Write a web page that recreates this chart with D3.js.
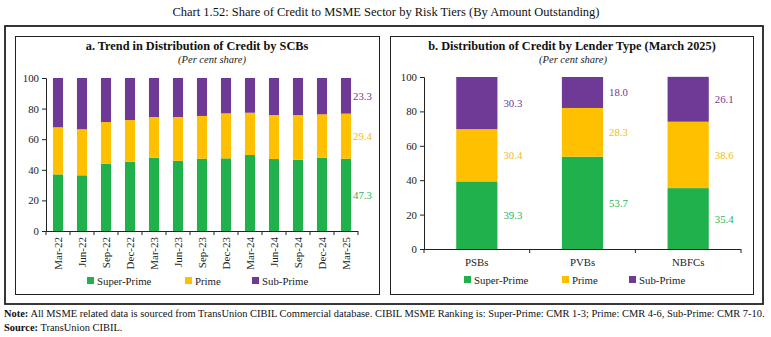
<!DOCTYPE html>
<html>
<head>
<meta charset="utf-8">
<script src="https://cdn.jsdelivr.net/npm/d3@7"></script>
<style>
  body { margin: 0; background: #fff; }
  svg { display: block; font-family: "Liberation Serif", "DejaVu Serif", serif; }
</style>
</head>
<body>
<svg id="chart" width="771" height="337"></svg>
<script>
// quarterly share of SCB credit by risk tier
var quarters = ["Mar-22", "Jun-22", "Sep-22", "Dec-22", "Mar-23", "Jun-23", "Sep-23",
  "Dec-23", "Mar-24", "Jun-24", "Sep-24", "Dec-24", "Mar-25"];
var superPrimeA = [37.0, 36.4, 44.0, 45.3, 47.9, 45.9, 47.3, 47.5, 49.7, 47.1, 46.6, 47.9, 47.3];
var primeA = [30.8, 30.1, 27.2, 27.2, 26.6, 28.6, 27.9, 29.4, 27.6, 28.7, 29.2, 28.4, 29.4];
var subPrimeA = [32.2, 33.5, 28.8, 27.5, 25.5, 25.5, 24.8, 23.1, 22.7, 24.2, 24.2, 23.7, 23.3];

// March 2025 share by lender type
var lenders = ["PSBs", "PVBs", "NBFCs"];
var superPrimeB = [39.3, 53.7, 35.4];
var primeB = [30.4, 28.3, 38.6];
var subPrimeB = [30.3, 18.0, 26.1];

var tiers = ["Super-Prime", "Prime", "Sub-Prime"];
var yTicks = [0, 20, 40, 60, 80, 100];

var colors = { "Super-Prime": "#21b14c", "Prime": "#ffc000", "Sub-Prime": "#6f3996" };
var labelColors = { "Super-Prime": "#2bb35a", "Prime": "#f7b81c", "Sub-Prime": "#6f3996" };

var svg = d3.select("#chart");

svg.append("text")
  .attr("x", 386).attr("y", 16)
  .attr("text-anchor", "middle")
  .attr("font-size", 12.5)
  .attr("fill", "#111")
  .text("Chart 1.52: Share of Credit to MSME Sector by Risk Tiers (By Amount Outstanding)");

// outer frame and the two panel boxes
svg.append("rect").attr("x", 5).attr("y", 26).attr("width", 758).attr("height", 278)
  .attr("fill", "none").attr("stroke", "#222").attr("stroke-width", 1.8);
svg.append("rect").attr("x", 15.5).attr("y", 36.5).attr("width", 364).attr("height", 258)
  .attr("fill", "none").attr("stroke", "#222").attr("stroke-width", 1);
svg.append("rect").attr("x", 390.5).attr("y", 36.5).attr("width", 363).attr("height", 258)
  .attr("fill", "none").attr("stroke", "#222").attr("stroke-width", 1);

function rows(cats, sp, p, s) {
  return cats.map(function(c, i) {
    return { cat: c, "Super-Prime": sp[i], "Prime": p[i], "Sub-Prime": s[i] };
  });
}

function panel(opt) {
  var g = svg.append("g");
  var data = rows(opt.cats, opt.sp, opt.p, opt.s);
  var series = d3.stack().keys(tiers)(data);

  var x = d3.scaleBand().domain(opt.cats).range([opt.x0, opt.x1]).paddingInner(opt.pad).paddingOuter(opt.pad / 2);
  var y = d3.scaleLinear().domain([0, 100]).range([opt.y0, opt.y1]);

  g.append("text")
    .attr("x", opt.cx).attr("y", 50)
    .attr("text-anchor", "middle")
    .attr("font-weight", "bold")
    .attr("font-size", 12.3)
    .attr("fill", "#111")
    .text(opt.title);
  g.append("text")
    .attr("x", opt.subx).attr("y", 63)
    .attr("text-anchor", "middle")
    .attr("font-style", "italic")
    .attr("font-size", 10.5)
    .attr("fill", "#222")
    .text("(Per cent share)");

  g.selectAll("g.series")
    .data(series)
    .join("g")
    .attr("fill", function(d) { return colors[d.key]; })
    .selectAll("rect")
    .data(function(d) { return d; })
    .join("rect")
    .attr("x", function(d) { return x(d.data.cat); })
    .attr("y", function(d) { return y(d[1]); })
    .attr("width", x.bandwidth())
    .attr("height", function(d) { return y(d[0]) - y(d[1]); });

  // y axis
  var yAxis = d3.axisLeft(y).tickValues(yTicks).tickSize(4).tickPadding(3);
  var ya = g.append("g").attr("transform", "translate(" + opt.x0 + ",0)").call(yAxis);
  ya.select(".domain").attr("stroke", "#222");
  ya.selectAll(".tick line").attr("stroke", "#222");
  ya.selectAll(".tick text").attr("font-size", 10.8).attr("fill", "#222")
    .attr("font-family", "Liberation Serif, serif");

  // x axis with tick marks between the bands
  g.append("line").attr("x1", opt.x0).attr("x2", opt.x1)
    .attr("y1", opt.y0 + 0.5).attr("y2", opt.y0 + 0.5).attr("stroke", "#222");
  var step = x.step();
  g.selectAll("line.xt")
    .data(d3.range(opt.cats.length + 1))
    .join("line")
    .attr("class", "xt")
    .attr("x1", function(i) { return opt.x0 + i * step; })
    .attr("x2", function(i) { return opt.x0 + i * step; })
    .attr("y1", opt.y0).attr("y2", opt.y0 + 4)
    .attr("stroke", "#222");

  if (opt.rotate) {
    g.selectAll("text.xl")
      .data(opt.cats)
      .join("text")
      .attr("class", "xl")
      .attr("transform", function(d) {
        return "translate(" + (x(d) + x.bandwidth() / 2 + 3.5) + "," + (opt.y0 + 6) + ") rotate(-90)";
      })
      .attr("text-anchor", "end")
      .attr("font-size", 11)
      .attr("fill", "#222")
      .text(function(d) { return d; });
  } else {
    g.selectAll("text.xl")
      .data(opt.cats)
      .join("text")
      .attr("class", "xl")
      .attr("x", function(d) { return x(d) + x.bandwidth() / 2; })
      .attr("y", opt.y0 + 17)
      .attr("text-anchor", "middle")
      .attr("font-size", 10.8)
      .attr("fill", "#222")
      .text(function(d) { return d; });
  }

  // value labels beside the chosen bars
  var labelled = opt.labelAll ? opt.cats : [opt.cats[opt.cats.length - 1]];
  series.forEach(function(s) {
    s.forEach(function(d) {
      if (labelled.indexOf(d.data.cat) < 0) return;
      g.append("text")
        .attr("x", x(d.data.cat) + x.bandwidth() + opt.labelGap)
        .attr("y", y((d[0] + d[1]) / 2) + 4)
        .attr("font-size", 10.8)
        .attr("fill", labelColors[s.key])
        .text(d3.format(".1f")(d.data[s.key]));
    });
  });

  // legend
  var lg = g.selectAll("g.legend")
    .data(tiers)
    .join("g")
    .attr("transform", function(d, i) { return "translate(" + opt.legendX[i] + "," + opt.legendY + ")"; });
  lg.append("rect").attr("x", 0).attr("y", -4).attr("width", 7).attr("height", 7)
    .attr("fill", function(d) { return colors[d]; });
  lg.append("text").attr("x", 10).attr("y", 3.5)
    .attr("font-size", 10.8).attr("fill", "#222")
    .text(function(d) { return d; });
}

panel({
  cats: quarters, sp: superPrimeA, p: primeA, s: subPrimeA,
  x0: 46, x1: 358, y0: 231, y1: 78, pad: 0.58,
  cx: 197, subx: 212,
  title: "a. Trend in Distribution of Credit by SCBs",
  rotate: true, labelAll: false, labelGap: 2,
  legendX: [87, 185, 252], legendY: 281
});

panel({
  cats: lenders, sp: superPrimeB, p: primeB, s: subPrimeB,
  x0: 424, x1: 741, y0: 249, y1: 77, pad: 0.61,
  cx: 572, subx: 573,
  title: "b. Distribution of Credit by Lender Type (March 2025)",
  rotate: false, labelAll: true, labelGap: 6,
  legendX: [464, 562, 629], legendY: 280
});

// footnotes
var note = svg.append("text").attr("x", 4).attr("y", 317).attr("font-size", 10.45).attr("fill", "#111");
note.append("tspan").attr("font-weight", "bold").text("Note:");
note.append("tspan").text(" All MSME related data is sourced from TransUnion CIBIL Commercial database. CIBIL MSME Ranking is: Super-Prime: CMR 1-3; Prime: CMR 4-6, Sub-Prime: CMR 7-10.");
var src = svg.append("text").attr("x", 4).attr("y", 331).attr("font-size", 10.45).attr("fill", "#111");
src.append("tspan").attr("font-weight", "bold").text("Source:");
src.append("tspan").text(" TransUnion CIBIL.");
</script>
</body>
</html>
